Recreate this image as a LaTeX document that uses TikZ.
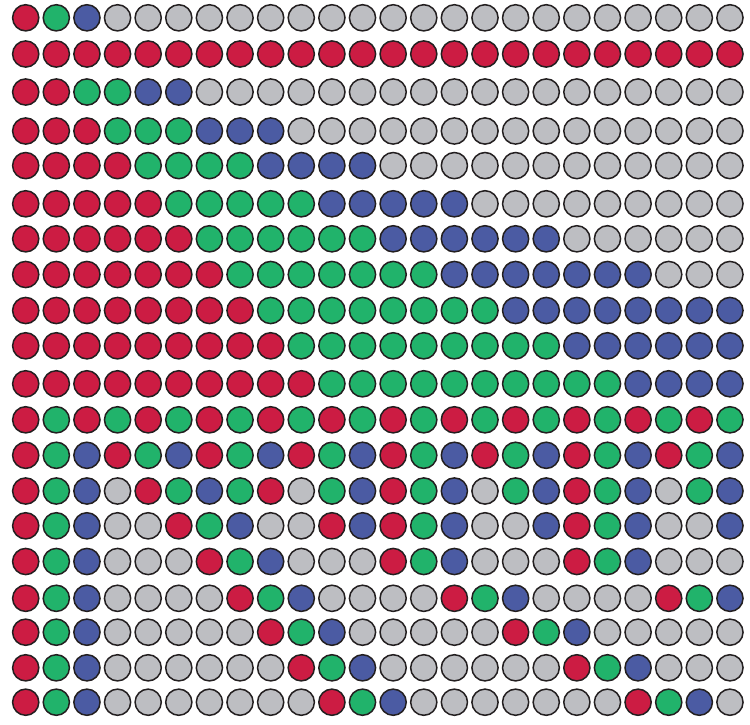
\documentclass[tikz,border=0pt]{standalone}
\usepackage{xcolor}
\usepackage{tikz}
\definecolor{ptR}{HTML}{CC1C43}
\definecolor{ptG}{HTML}{21B36B}
\definecolor{ptB}{HTML}{4B5BA3}
\definecolor{ptN}{HTML}{BDBEC2}
\definecolor{ptline}{HTML}{231F20}

\begin{document}
\begin{tikzpicture}[x=1pt,y=-1pt,
  dot/.style={circle,draw=ptline,line width=1.5pt,minimum size=26.2pt,inner sep=0pt}]
\useasboundingbox (0,0) rectangle (750,724);
\foreach \cells/\y [count=\j] in {
  {R,G,B,N,N,N, N,N,N,N,N,N, N,N,N,N,N,N, N,N,N,N,N,N}/17.8,
  {R,R,R,R,R,R, R,R,R,R,R,R, R,R,R,R,R,R, R,R,R,R,R,R}/54,
  {R,R,G,G,B,B, N,N,N,N,N,N, N,N,N,N,N,N, N,N,N,N,N,N}/92,
  {R,R,R,G,G,G, B,B,B,N,N,N, N,N,N,N,N,N, N,N,N,N,N,N}/131,
  {R,R,R,R,G,G, G,G,B,B,B,B, N,N,N,N,N,N, N,N,N,N,N,N}/165.6,
  {R,R,R,R,R,G, G,G,G,G,B,B, B,B,B,N,N,N, N,N,N,N,N,N}/203.8,
  {R,R,R,R,R,R, G,G,G,G,G,G, B,B,B,B,B,B, N,N,N,N,N,N}/238.8,
  {R,R,R,R,R,R, R,G,G,G,G,G, G,G,B,B,B,B, B,B,B,N,N,N}/274.5,
  {R,R,R,R,R,R, R,R,G,G,G,G, G,G,G,G,B,B, B,B,B,B,B,B}/310.5,
  {R,R,R,R,R,R, R,R,R,G,G,G, G,G,G,G,G,G, B,B,B,B,B,B}/345.8,
  {R,R,R,R,R,R, R,R,R,R,G,G, G,G,G,G,G,G, G,G,B,B,B,B}/383.8,
  {R,G,R,G,R,G, R,G,R,G,R,G, R,G,R,G,R,G, R,G,R,G,R,G}/419.8,
  {R,G,B,R,G,B, R,G,B,R,G,B, R,G,B,R,G,B, R,G,B,R,G,B}/455.3,
  {R,G,B,N,R,G, B,G,R,N,G,B, R,G,B,N,G,B, R,G,B,N,G,B}/491,
  {R,G,B,N,N,R, G,B,N,N,R,B, R,G,B,N,N,B, R,G,B,N,N,B}/525.8,
  {R,G,B,N,N,N, R,G,B,N,N,N, R,G,B,N,N,N, R,G,B,N,N,N}/561.5,
  {R,G,B,N,N,N, N,R,G,B,N,N, N,N,R,G,B,N, N,N,N,R,G,B}/598.3,
  {R,G,B,N,N,N, N,N,R,G,B,N, N,N,N,N,R,G, B,N,N,N,N,N}/632.2,
  {R,G,B,N,N,N, N,N,N,R,G,B, N,N,N,N,N,N, R,G,B,N,N,N}/667.8,
  {R,G,B,N,N,N, N,N,N,N,R,G, B,N,N,N,N,N, N,N,R,G,B,N}/702.2}
  \foreach \c [count=\i from 0] in \cells
    \node[dot,fill=pt\c] (d\j-\i) at ({25.7+30.62*\i},\y) {};
\end{tikzpicture}
\end{document}
